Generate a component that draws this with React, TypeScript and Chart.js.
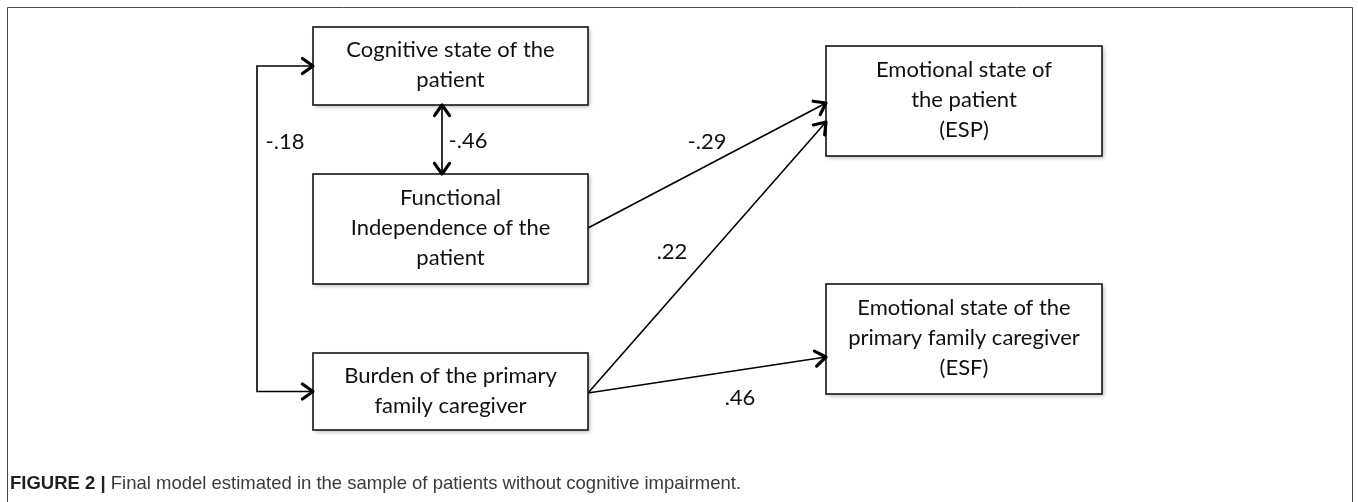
import React, { useEffect, useRef } from "react";
import { Chart, registerables } from "chart.js";

Chart.register(...registerables);

// ---------- DATA ----------
const nodeLabels: string[][] = [
  ["Cognitive state of the", "patient"],
  ["Functional", "Independence of the", "patient"],
  ["Burden of the primary", "family caregiver"],
  ["Emotional state of", "the patient", "(ESP)"],
  ["Emotional state of the", "primary family caregiver", "(ESF)"],
];
const pathCoefficients: string[] = ["-.46", "-.18", "-.29", ".22", ".46"];
const pathFrom: number[] = [0, 0, 1, 2, 2];
const pathTo: number[] = [1, 2, 3, 3, 4];
const pathKind: string[] = ["covariance-vertical", "covariance-bracket", "effect", "effect", "effect"];
const captionBold = "FIGURE 2 |";
const captionRest = " Final model estimated in the sample of patients without cognitive impairment.";

// ---------- LAYOUT (scale units) ----------
const W = 1358;
const H = 502;
const nodeCx = [450.5, 450.5, 450.5, 964, 964];
const nodeCy = [66, 229, 391.5, 101, 339];
const nodeW = [275, 275, 275, 276, 276];
const nodeH = [78, 110, 77, 110, 110];
const edgeStartDy = [0, 0, -1, 1.5, 1.5];
const edgeEndDy = [0, 0, 2, 21, 18];
const verticalArrowX = 442;
const bracketX = 257;
const coefX = [468, 285, 707, 672, 740];
const coefY = [141, 142, 142, 252, 398];

const FONT = "Lato, 'Open Sans', sans-serif";
const CAPTION_FONT = "'Liberation Sans', Arial, sans-serif";

function edgePoints(i: number): { x: number; y: number }[] {
  const a = pathFrom[i];
  const b = pathTo[i];
  const kind = pathKind[i];
  if (kind === "covariance-vertical") {
    return [
      { x: verticalArrowX, y: nodeCy[a] + nodeH[a] / 2 },
      { x: verticalArrowX, y: nodeCy[b] - nodeH[b] / 2 },
    ];
  }
  if (kind === "covariance-bracket") {
    const xa = nodeCx[a] - nodeW[a] / 2;
    const xb = nodeCx[b] - nodeW[b] / 2;
    return [
      { x: xa, y: nodeCy[a] + edgeStartDy[i] },
      { x: bracketX, y: nodeCy[a] + edgeStartDy[i] },
      { x: bracketX, y: nodeCy[b] + edgeEndDy[i] },
      { x: xb, y: nodeCy[b] + edgeEndDy[i] },
    ];
  }
  return [
    { x: nodeCx[a] + nodeW[a] / 2, y: nodeCy[a] + edgeStartDy[i] },
    { x: nodeCx[b] - nodeW[b] / 2, y: nodeCy[b] + edgeEndDy[i] },
  ];
}

function arrowHead(ctx: CanvasRenderingContext2D, tx: number, ty: number, fx: number, fy: number) {
  const ang = Math.atan2(ty - fy, tx - fx);
  const len = 13;
  const spread = 0.62;
  ctx.save();
  ctx.strokeStyle = "#000";
  ctx.lineWidth = 3.2;
  ctx.lineCap = "round";
  ctx.lineJoin = "round";
  ctx.beginPath();
  ctx.moveTo(tx - len * Math.cos(ang - spread), ty - len * Math.sin(ang - spread));
  ctx.lineTo(tx, ty);
  ctx.lineTo(tx - len * Math.cos(ang + spread), ty - len * Math.sin(ang + spread));
  ctx.stroke();
  ctx.restore();
}

const diagramPlugin = {
  id: "pathDiagram",
  beforeDraw(chart: any) {
    const ctx: CanvasRenderingContext2D = chart.ctx;
    const xs = chart.scales.x;
    const ys = chart.scales.y;
    ctx.save();
    ctx.fillStyle = "#fff";
    ctx.fillRect(0, 0, chart.width, chart.height);
    // frame
    ctx.strokeStyle = "#4a4a4a";
    ctx.lineWidth = 1;
    ctx.beginPath();
    ctx.moveTo(Math.round(xs.getPixelForValue(7)) + 0.5, ys.getPixelForValue(H + 5));
    ctx.lineTo(Math.round(xs.getPixelForValue(7)) + 0.5, Math.round(ys.getPixelForValue(7)) + 0.5);
    ctx.lineTo(Math.round(xs.getPixelForValue(1352)) + 0.5, Math.round(ys.getPixelForValue(7)) + 0.5);
    ctx.lineTo(Math.round(xs.getPixelForValue(1352)) + 0.5, ys.getPixelForValue(H + 5));
    ctx.stroke();
    ctx.restore();
  },
  afterDatasetsDraw(chart: any) {
    const ctx: CanvasRenderingContext2D = chart.ctx;
    const xs = chart.scales.x;
    const ys = chart.scales.y;
    const px = (v: number) => xs.getPixelForValue(v);
    const py = (v: number) => ys.getPixelForValue(v);
    ctx.save();
    // boxes
    nodeLabels.forEach((lines, i) => {
      const x0 = px(nodeCx[i] - nodeW[i] / 2);
      const x1 = px(nodeCx[i] + nodeW[i] / 2);
      const y0 = py(nodeCy[i] - nodeH[i] / 2);
      const y1 = py(nodeCy[i] + nodeH[i] / 2);
      ctx.save();
      ctx.shadowColor = "rgba(0,0,0,0.28)";
      ctx.shadowBlur = 4;
      ctx.shadowOffsetX = 1.5;
      ctx.shadowOffsetY = 2;
      ctx.fillStyle = "#fff";
      ctx.fillRect(x0, y0, x1 - x0, y1 - y0);
      ctx.restore();
      ctx.strokeStyle = "#222";
      ctx.lineWidth = 1.7;
      ctx.strokeRect(x0, y0, x1 - x0, y1 - y0);
      ctx.fillStyle = "#111";
      ctx.font = `22px ${FONT}`;
      ctx.textAlign = "center";
      ctx.textBaseline = "middle";
      const lh = 30;
      const cy = py(nodeCy[i]);
      lines.forEach((t, k) => {
        ctx.fillText(t, px(nodeCx[i]), cy + (k - (lines.length - 1) / 2) * lh - 1);
      });
    });
    // arrowheads
    pathKind.forEach((kind, i) => {
      const p = edgePoints(i).map((q) => ({ x: px(q.x), y: py(q.y) }));
      const n = p.length;
      arrowHead(ctx, p[n - 1].x, p[n - 1].y, p[n - 2].x, p[n - 2].y);
      if (kind !== "effect") arrowHead(ctx, p[0].x, p[0].y, p[1].x, p[1].y);
    });
    // coefficients
    ctx.fillStyle = "#111";
    ctx.font = `22px ${FONT}`;
    ctx.textAlign = "center";
    ctx.textBaseline = "middle";
    pathCoefficients.forEach((t, i) => ctx.fillText(t, px(coefX[i]), py(coefY[i])));
    // caption
    ctx.textAlign = "left";
    ctx.textBaseline = "alphabetic";
    ctx.fillStyle = "#231f20";
    ctx.font = `bold 18.5px ${CAPTION_FONT}`;
    const cx0 = px(10);
    const cyb = py(489);
    ctx.fillText(captionBold, cx0, cyb);
    const bw = ctx.measureText(captionBold).width;
    ctx.fillStyle = "#3a3a3a";
    ctx.font = `18.5px ${CAPTION_FONT}`;
    ctx.fillText(captionRest, cx0 + bw, cyb);
    ctx.restore();
  },
};

export default function App() {
  const canvasRef = useRef<HTMLCanvasElement | null>(null);
  useEffect(() => {
    if (!canvasRef.current) return;
    const datasets: any[] = pathKind.map((_, i) => ({
      type: "scatter",
      label: pathCoefficients[i],
      data: edgePoints(i),
      showLine: true,
      borderColor: "#000",
      borderWidth: 1.6,
      pointRadius: 0,
      fill: false,
      tension: 0,
    }));
    datasets.push({
      type: "scatter",
      label: "nodes",
      data: nodeCx.map((x, i) => ({ x, y: nodeCy[i] })),
      pointRadius: 0,
      showLine: false,
    });
    const chart = new Chart(canvasRef.current, {
      type: "scatter",
      data: { datasets },
      options: {
        animation: false,
        responsive: true,
        maintainAspectRatio: false,
        layout: { padding: 0 },
        events: [],
        scales: {
          x: { type: "linear", min: 0, max: W, display: false },
          y: { type: "linear", min: 0, max: H, reverse: true, display: false },
        },
        plugins: { legend: { display: false }, tooltip: { enabled: false }, title: { display: false } },
      },
      plugins: [diagramPlugin],
    });
    return () => chart.destroy();
  }, []);
  return (
    <div style={{ position: "absolute", left: 0, top: 0, width: W, height: H, background: "#fff" }}>
      <canvas ref={canvasRef} />
    </div>
  );
}
